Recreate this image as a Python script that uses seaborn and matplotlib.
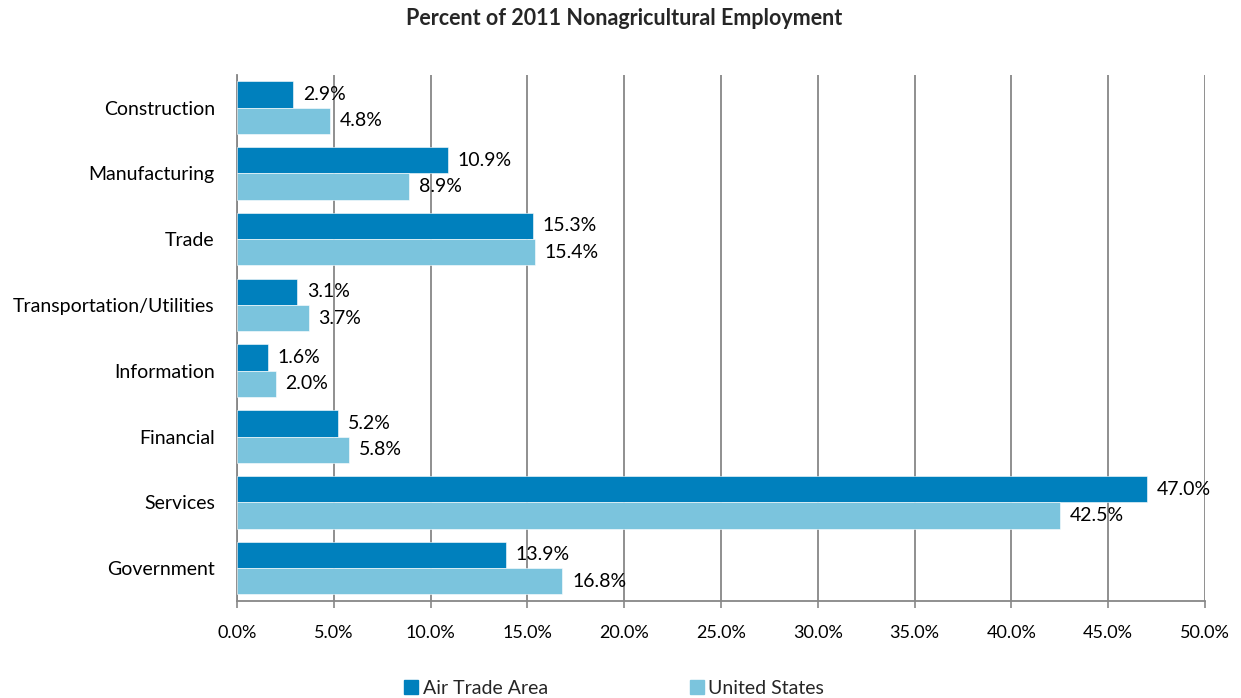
import matplotlib
matplotlib.use("Agg")
import matplotlib.pyplot as plt
from matplotlib.ticker import PercentFormatter, MultipleLocator
import seaborn as sns
import pandas as pd

# Employment shares by industry, 2011
industries = ["Construction", "Manufacturing", "Trade", "Transportation/Utilities",
              "Information", "Financial", "Services", "Government"]
air_trade_area = [2.9, 10.9, 15.3, 3.1, 1.6, 5.2, 47.0, 13.9]
united_states = [4.8, 8.9, 15.4, 3.7, 2.0, 5.8, 42.5, 16.8]
series_names = ["Air Trade Area", "United States"]

df = pd.DataFrame({
    "Industry": industries * 2,
    "Percent": air_trade_area + united_states,
    "Series": [series_names[0]] * len(industries) + [series_names[1]] * len(industries),
})

sns.set_theme(style="white")
plt.rcParams["font.family"] = ["Lato", "DejaVu Sans"]

dark_blue = "#0080BD"
light_blue = "#7BC4DD"
grid_gray = "#878787"

fig = plt.figure(figsize=(12.41, 6.98), dpi=100)
ax = fig.add_axes([0.191, 0.139, 0.780, 0.754])

sns.barplot(data=df, y="Industry", x="Percent", hue="Series", orient="h",
            palette=[dark_blue, light_blue], saturation=1, width=0.8, ax=ax,
            edgecolor="white", linewidth=0.4, zorder=3)

ax.set_xlim(0, 50)
ax.xaxis.set_major_locator(MultipleLocator(5))
ax.xaxis.set_major_formatter(PercentFormatter(decimals=1))
ax.set_xlabel("")
ax.set_ylabel("")

ax.grid(axis="x", color=grid_gray, linewidth=1.3, zorder=0)
ax.set_axisbelow(True)
for side in ["top", "right"]:
    ax.spines[side].set_visible(False)
for side in ["left", "bottom"]:
    ax.spines[side].set_color(grid_gray)
    ax.spines[side].set_linewidth(1.3)

ax.tick_params(axis="x", which="major", bottom=True, length=5, width=1.2,
               color=grid_gray, labelsize=13, pad=12, labelcolor="black")
ax.tick_params(axis="y", left=False, length=0, labelsize=14, pad=16,
               labelcolor="black")

for container in ax.containers:
    ax.bar_label(container, fmt="%.1f%%", padding=7, fontsize=14, color="black")

ax.get_legend().remove()
handles = [plt.Rectangle((0, 0), 1, 1, color=c) for c in (dark_blue, light_blue)]
fig.legend(handles, series_names, loc="center", bbox_to_anchor=(0.495, 0.014),
           ncol=2, frameon=False, fontsize=14, handlelength=0.7,
           handleheight=0.7, handletextpad=0.25, columnspacing=7.3)

fig.suptitle("Percent of 2011 Nonagricultural Employment", fontsize=15.5,
             fontweight="bold", x=0.503, y=0.988)

fig.savefig("out.png", dpi=100)
